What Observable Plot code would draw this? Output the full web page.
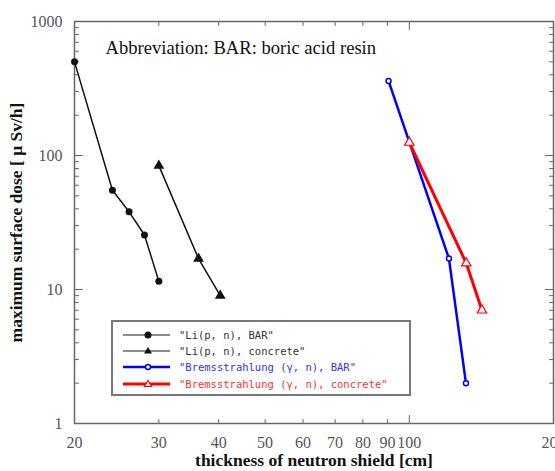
<!DOCTYPE html>
<html>
<head>
<meta charset="utf-8">
<script src="https://cdn.jsdelivr.net/npm/d3@7"></script>
<script src="https://cdn.jsdelivr.net/npm/@observablehq/plot@0.6"></script>
<style>
  body { margin: 0; background: white; }
  #wrap { position: relative; width: 555px; height: 471px; }
  #legend { position: absolute; left: 111px; top: 320px; width: 296px; height: 72px;
            border: 2px solid #777; background: white; }
  .row { position: absolute; left: 0; height: 16px; display: flex; align-items: center; }
  .row span { font-family: "DejaVu Sans Mono", monospace; font-size: 10.5px; white-space: pre; margin-left: 4px; }
</style>
</head>
<body>
<div id="wrap"></div>
<script>
// ---- data ----
const thicknessLiBAR = [20, 24, 26, 28, 30];
const doseLiBAR = [500, 55, 38, 25.5, 11.5];
const thicknessLiConcrete = [30, 36.3, 40.3];
const doseLiConcrete = [84, 17, 9];
const thicknessBremsBAR = [90.5, 121, 131.3];
const doseBremsBAR = [360, 17, 2.0];
const thicknessBremsConcrete = [100, 131.5, 141.8];
const doseBremsConcrete = [125, 15.7, 7];

const seriesNames = [
  "\"Li(p, n), BAR\"",
  "\"Li(p, n), concrete\"",
  "\"Bremsstrahlung (γ, n), BAR\"",
  "\"Bremsstrahlung (γ, n), concrete\""
];
const seriesColors = ["#111111", "#111111", "#0000ff", "#ff0000"];
const legendTextColors = ["#333333", "#333333", "#3030ff", "#ff3030"];

const xTickLabels = [20, 30, 40, 50, 60, 70, 80, 90, 100, 200];
const xMinorTicks = [30, 40, 50, 60, 70, 80, 90];
const xMajorTicks = [100];
const yTickLabels = [1, 10, 100, 1000];
const yMajorTicks = [10, 100];
const yMinorTicks = [];
for (const base of [1, 10, 100]) for (let m = 2; m <= 9; m++) yMinorTicks.push(base * m);

const annotation = "Abbreviation: BAR: boric acid resin";
const xLabel = "thickness of neutron shield [cm]";
const yLabel = "maximum surface dose [ μ Sv/h]";

const zip = (xs, ys) => xs.map((x, i) => ({x, y: ys[i]}));
const liBAR = zip(thicknessLiBAR, doseLiBAR);
const liCon = zip(thicknessLiConcrete, doseLiConcrete);
const brBAR = zip(thicknessBremsBAR, doseBremsBAR);
const brCon = zip(thicknessBremsConcrete, doseBremsConcrete);

const serif = "'Liberation Serif', 'Times New Roman', serif";
const xMin = 20, xMax = 200, yMin = 1, yMax = 1000;
const tickStroke = "#666";
// plain tick shape (no arrowhead)
const tickShape = {draw(context, l) { context.moveTo(0, 0); context.lineTo(0, -l); }};
const tick = (data, opts) => Plot.vector(data, {shape: tickShape, anchor: "start", stroke: tickStroke, strokeWidth: 1, ...opts});

const chart = Plot.plot({
  width: 555,
  height: 471,
  marginLeft: 74,
  marginRight: 2,
  marginTop: 21,
  marginBottom: 48,
  x: {type: "log", domain: [xMin, xMax], axis: null},
  y: {type: "log", domain: [yMin, yMax], axis: null},
  style: {fontFamily: serif, background: "white", overflow: "visible"},
  marks: [
    // inward ticks starting on the frame
    tick(xMinorTicks, {x: d => d, y: () => yMin, length: 4, rotate: 0}),
    tick(xMajorTicks, {x: d => d, y: () => yMin, length: 8, rotate: 0}),
    tick(xMinorTicks, {x: d => d, y: () => yMax, length: 4, rotate: 180}),
    tick(xMajorTicks, {x: d => d, y: () => yMax, length: 8, rotate: 180}),
    tick(yMinorTicks, {x: () => xMin, y: d => d, length: 4, rotate: 90}),
    tick(yMajorTicks, {x: () => xMin, y: d => d, length: 8, rotate: 90}),
    tick(yMinorTicks, {x: () => xMax, y: d => d, length: 4, rotate: -90}),
    tick(yMajorTicks, {x: () => xMax, y: d => d, length: 8, rotate: -90}),
    // tick labels
    Plot.text(xTickLabels, {x: d => d, frameAnchor: "bottom", dy: 19, lineAnchor: "middle",
      text: d => String(d), fontSize: 16, fill: "#555", fontFamily: serif}),
    Plot.text(yTickLabels, {y: d => d, frameAnchor: "left", dx: -12, textAnchor: "end", lineAnchor: "middle",
      text: d => String(d), fontSize: 16, fill: "#555", fontFamily: serif}),
    Plot.frame({stroke: "#666", strokeWidth: 1.5}),
    // series
    Plot.line(liBAR, {x: "x", y: "y", stroke: seriesColors[0], strokeWidth: 1.5}),
    Plot.dot(liBAR, {x: "x", y: "y", r: 3.5, fill: seriesColors[0], symbol: "circle"}),
    Plot.line(liCon, {x: "x", y: "y", stroke: seriesColors[1], strokeWidth: 1.5}),
    Plot.dot(liCon, {x: "x", y: "y", r: 4, fill: seriesColors[1], symbol: "triangle"}),
    Plot.line(brBAR, {x: "x", y: "y", stroke: seriesColors[2], strokeWidth: 2.5}),
    Plot.dot(brBAR, {x: "x", y: "y", r: 2.5, stroke: seriesColors[2], strokeWidth: 1.5, fill: "white", symbol: "circle"}),
    Plot.line(brCon, {x: "x", y: "y", stroke: seriesColors[3], strokeWidth: 3}),
    Plot.dot(brCon, {x: "x", y: "y", r: 3.5, stroke: seriesColors[3], strokeWidth: 1.2, fill: "white", symbol: "triangle"}),
    // texts
    Plot.text([annotation], {frameAnchor: "top-left", dx: 31, dy: 27, textAnchor: "start",
      lineAnchor: "middle", fontSize: 18.6, fill: "#111", fontFamily: serif}),
    Plot.text([xLabel], {frameAnchor: "bottom", dy: 37, textAnchor: "middle", lineAnchor: "middle",
      fontSize: 17.5, fontWeight: "bold", fill: "#111", fontFamily: serif}),
    Plot.text([yLabel], {frameAnchor: "left", dx: -58, rotate: -90, textAnchor: "middle", lineAnchor: "middle",
      fontSize: 17.5, fontWeight: "bold", fill: "#111", fontFamily: serif})
  ]
});
const wrap = document.getElementById("wrap");
wrap.appendChild(chart);

// legend
const legend = document.createElement("div");
legend.id = "legend";
const symbols = ["circleFill", "triangleFill", "circleOpen", "triangleOpen"];
seriesNames.forEach((name, i) => {
  const row = document.createElement("div");
  row.className = "row";
  row.style.top = (5 + i * 16.2) + "px";
  const c = seriesColors[i];
  const sw = i < 2 ? 1.5 : (i === 2 ? 2.5 : 3);
  let marker = "";
  if (symbols[i] === "circleFill") marker = `<circle cx="35" cy="8" r="3.5" fill="${c}"/>`;
  if (symbols[i] === "triangleFill") marker = `<path d="M35,4 L39,10.5 L31,10.5 Z" fill="${c}"/>`;
  if (symbols[i] === "circleOpen") marker = `<circle cx="35" cy="8" r="2.5" fill="white" stroke="${c}" stroke-width="1.5"/>`;
  if (symbols[i] === "triangleOpen") marker = `<path d="M35,4.5 L38.5,10.5 L31.5,10.5 Z" fill="white" stroke="${c}" stroke-width="1.2"/>`;
  row.innerHTML = `<svg width="62" height="16" style="display:block"><line x1="10" y1="8" x2="57" y2="8" stroke="${c === '#111111' ? '#666' : c}" stroke-width="${sw}"/>${marker}</svg><span style="color:${legendTextColors[i]}">${name}</span>`;
  legend.appendChild(row);
});
wrap.appendChild(legend);
</script>
</body>
</html>
